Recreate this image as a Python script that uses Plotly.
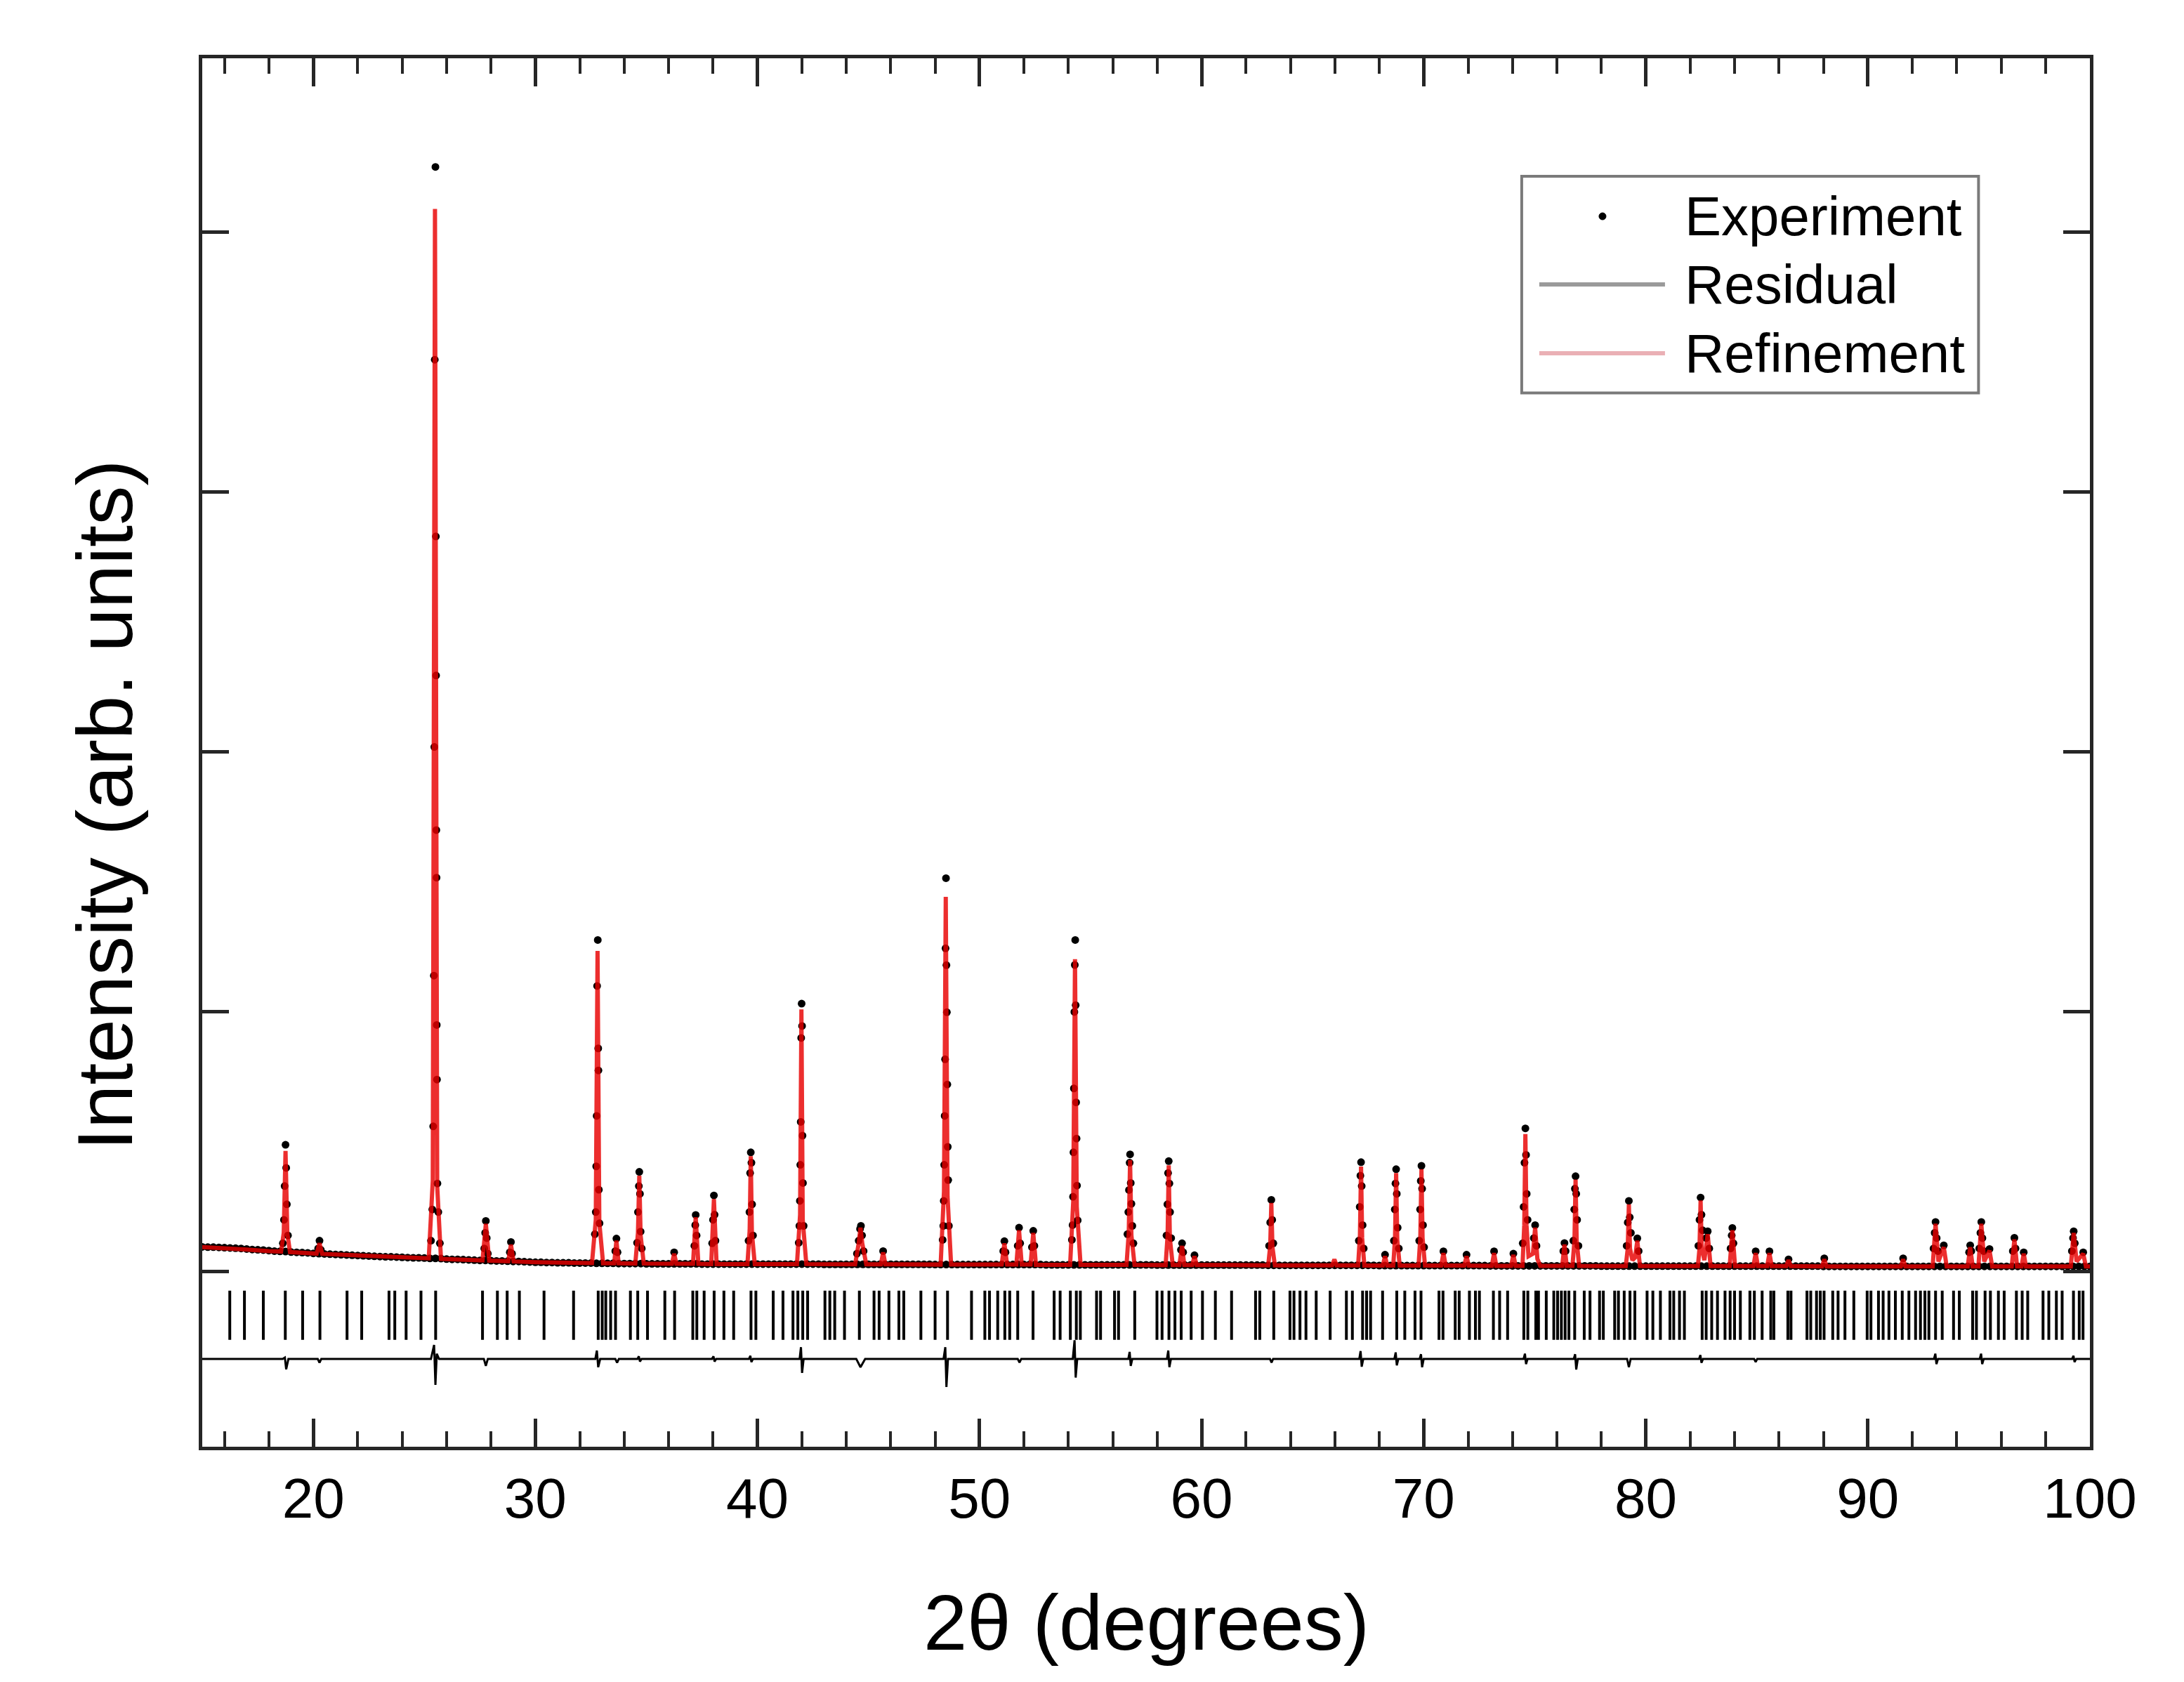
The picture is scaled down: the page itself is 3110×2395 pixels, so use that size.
import numpy as np
import plotly.graph_objects as go

# ---------------- data ----------------
# Experiment: background scan points (0.25 deg step from 15 to 100)
scan_start, scan_step = 15.0, 0.25
obs_bg_intensity = [
    96, 95, 95, 94,  93, 92, 91, 90,  88, 86, 85, 84,  82, 80, 79, 78,  76, 75, 74, 73,
    71, 70, 69, 68,  67, 66, 65, 64,  63, 62, 61, 60,  59, 58, 58, 57,  56, 55, 54, 54,
    53, 52, 52, 51,  49, 48, 48, 47,  46, 45, 44, 44,  43, 42, 42, 41,  40, 40, 39, 38,
    37, 37, 36, 36,  35, 35, 35, 34,  34, 34, 34, 33,  33, 33, 33, 32,  32, 32, 32, 32,
    31, 31, 31, 31,  31, 31, 31, 31,  31, 31, 30, 30,  30, 30, 30, 30,  30, 30, 30, 30,
    30, 30, 30, 30,  30, 30, 30, 30,  30, 30, 30, 30,  29, 29, 29, 29,  29, 29, 29, 29,
    29, 29, 29, 29,  29, 29, 29, 29,  29, 29, 29, 29,  28, 28, 28, 28,  28, 28, 28, 28,
    28, 28, 28, 28,  28, 28, 28, 28,  28, 28, 28, 28,  27, 27, 27, 27,  27, 27, 27, 27,
    27, 27, 27, 27,  27, 27, 27, 27,  27, 27, 27, 27,  26, 26, 26, 26,  26, 26, 26, 26,
    26, 26, 26, 26,  26, 26, 26, 26,  26, 26, 26, 26,  25, 25, 25, 25,  25, 25, 25, 25,
    25, 25, 25, 25,  25, 25, 25, 25,  25, 25, 25, 25,  24, 24, 24, 24,  24, 24, 24, 24,
    24, 24, 24, 24,  24, 24, 24, 24,  24, 24, 24, 24,  23, 23, 23, 23,  23, 23, 23, 23,
    23, 23, 23, 23,  23, 23, 23, 23,  23, 23, 23, 23,  22, 22, 22, 22,  22, 22, 22, 22,
    22, 22, 22, 22,  22, 22, 22, 22,  22, 22, 22, 22,  22, 22, 22, 22,  22, 22, 22, 22,
    22, 22, 22, 22,  22, 22, 22, 22,  22, 22, 22, 22,  21, 21, 21, 21,  21, 21, 21, 21,
    21, 21, 21, 21,  21, 21, 21, 21,  21, 21, 21, 21,  21, 21, 21, 21,  21, 21, 21, 21,
    21, 21, 21, 21,  21, 21, 21, 21,  21, 21, 21, 21,  21, 21, 21, 21,  21, 21, 21, 21,
    21,
]

# Experiment: points on the diffraction peaks
obs_peak_2theta = [
    18.63, 18.68, 18.71, 18.75, 18.78, 18.81, 18.86,
    20.22, 20.28, 20.34,
    25.30, 25.36, 25.40, 25.43, 25.45, 25.47, 25.50, 25.52, 25.53, 25.54, 25.55, 25.56, 25.57, 25.59, 25.63, 25.70,
    27.70, 27.74, 27.77, 27.81, 27.86,
    28.85, 28.90, 28.95,
    32.68, 32.72, 32.74, 32.76, 32.78, 32.81, 32.83, 32.84, 32.86, 32.89,
    33.60, 33.65, 33.70,
    34.58, 34.62, 34.66, 34.68, 34.71, 34.74, 34.79,
    36.25,
    37.16, 37.20, 37.22, 37.26,
    37.96, 38.00, 38.04, 38.07, 38.11,
    39.60, 39.64, 39.67, 39.70, 39.73, 39.76, 39.80,
    41.86, 41.89, 41.91, 41.93, 41.95, 41.97, 41.99, 42.01, 42.03, 42.05, 42.08,
    44.48, 44.56, 44.62, 44.66, 44.71, 44.78,
    45.66,
    48.34, 48.37, 48.39, 48.41, 48.43, 48.45, 48.47, 48.49, 48.51, 48.53, 48.55, 48.57, 48.59, 48.62,
    51.07, 51.12, 51.17,
    51.72, 51.78, 51.83,
    52.36, 52.42, 52.47,
    54.16, 54.19, 54.21, 54.23, 54.25, 54.27, 54.29, 54.31, 54.33, 54.35, 54.37, 54.39, 54.42,
    56.66, 56.70, 56.73, 56.76, 56.78, 56.81, 56.84, 56.88, 56.93,
    58.42, 58.46, 58.49, 58.52, 58.55, 58.58, 58.63,
    59.07, 59.12, 59.17,
    59.68,
    63.04, 63.09, 63.14, 63.18, 63.23,
    67.08, 67.12, 67.15, 67.18, 67.21, 67.25, 67.30,
    68.26,
    68.66, 68.70, 68.73, 68.76, 68.79, 68.83, 68.88,
    69.80, 69.84, 69.87, 69.90, 69.93, 69.97, 70.02,
    70.89, 71.93, 73.17, 74.04,
    74.46, 74.50, 74.54, 74.58, 74.61, 74.64, 74.68,
    74.96, 75.02, 75.08,
    76.29, 76.34, 76.39,
    76.74, 76.78, 76.81, 76.84, 76.87, 76.91, 76.97,
    79.14, 79.19, 79.24, 79.28, 79.33,
    79.62, 79.68,
    82.37, 82.42, 82.47, 82.51, 82.56,
    82.72, 82.79, 82.86,
    83.82, 83.87, 83.90, 83.95,
    84.95, 85.57, 86.43, 88.04, 91.59,
    92.96, 93.01, 93.05, 93.10, 93.16,
    93.42,
    94.56, 94.61, 94.66,
    95.02, 95.07, 95.11, 95.16, 95.22,
    95.48,
    96.53, 96.60, 96.65,
    97.02,
    99.19, 99.24, 99.27, 99.32,
    99.70,
]
obs_peak_intensity = [
    110, 200, 330, 489, 400, 260, 140,
    90, 120, 85,
    120, 240, 560, 1140, 2020, 3510, 4252, 2830, 2295, 1700, 1517, 950, 740, 340, 230, 110,
    90, 150, 196, 130, 70,
    75, 115, 70,
    145, 230, 406, 600, 1100, 1277, 860, 775, 316, 187,
    80, 128, 75,
    112, 230, 330, 385, 300, 155, 90,
    75,
    100, 180, 219, 140,
    110, 200, 294, 220, 120,
    120, 230, 380, 460, 420, 260, 140,
    112, 177, 273, 412, 577, 900, 1032, 946, 524, 342, 177,
    70, 120, 165, 177, 140, 80,
    80,
    123, 177, 273, 412, 600, 818, 1245, 1515, 1180, 999, 721, 481, 353, 177,
    80, 118, 75,
    100, 170, 110,
    95, 158, 100,
    123, 180, 289, 460, 706, 1000, 1181, 1277, 1026, 652, 513, 332, 198,
    145, 230, 315, 420, 452, 342, 262, 177, 110,
    140, 260, 380, 426, 340, 230, 130,
    85, 110, 75,
    64,
    100, 190, 277, 200, 110,
    120, 250, 370, 422, 330, 180, 90,
    66,
    120, 240, 340, 395, 300, 170, 90,
    120, 240, 350, 408, 320, 180, 95,
    79, 66, 79, 70,
    110, 250, 420, 552, 450, 300, 200,
    130, 180, 100,
    80, 111, 80,
    120, 240, 320, 368, 300, 200, 100,
    100, 190, 273, 210, 150,
    129, 80,
    100, 200, 286, 220, 160,
    130, 156, 90,
    90, 140, 169, 110,
    79, 79, 48, 52, 52,
    90, 150, 192, 130, 80,
    102,
    75, 102, 80,
    90, 150, 192, 130, 80,
    88,
    80, 131, 90,
    75,
    80, 130, 156, 110,
    75,
]

# Refinement (calculated profile)
calc_2theta = [
    15.00, 16.00, 17.00, 18.00,
    18.55, 18.67, 18.75, 18.83, 18.95,
    20.15, 20.28, 20.40,
    22.00, 24.00,
    25.20, 25.38, 25.48, 25.58, 25.75,
    27.62, 27.77, 27.92,
    28.78, 28.90, 29.02,
    30.00, 31.00,
    32.55, 32.72, 32.80, 32.88, 33.05,
    33.55, 33.65, 33.75,
    34.50, 34.62, 34.68, 34.74, 34.88,
    36.15, 36.25, 36.35,
    37.10, 37.22, 37.34,
    37.92, 38.04, 38.16,
    39.55, 39.65, 39.70, 39.75, 39.88,
    41.78, 41.92, 41.98, 42.04, 42.20,
    44.40, 44.56, 44.64, 44.72, 44.90,
    45.56, 45.66, 45.76,
    48.25, 48.40, 48.48, 48.56, 48.72,
    51.00, 51.12, 51.24,
    51.66, 51.78, 51.90,
    52.30, 52.42, 52.54,
    54.08, 54.22, 54.30, 54.38, 54.55,
    56.62, 56.72, 56.78, 56.84, 56.98,
    58.38, 58.47, 58.52, 58.57, 58.70,
    59.00, 59.12, 59.22,
    59.58, 59.68, 59.78,
    61.00,
    63.00, 63.09, 63.14, 63.19, 63.30,
    65.88, 65.98, 66.08,
    67.05, 67.13, 67.18, 67.23, 67.33,
    68.16, 68.26, 68.36,
    68.63, 68.71, 68.76, 68.81, 68.92,
    69.77, 69.85, 69.90, 69.95, 70.06,
    70.79, 70.89, 70.99,
    71.83, 71.93, 72.03,
    73.07, 73.17, 73.27,
    73.94, 74.04, 74.14,
    74.45, 74.53, 74.58, 74.63, 74.72, 74.92, 75.02, 75.12, 75.25,
    76.24, 76.34, 76.44,
    76.70, 76.79, 76.84, 76.89, 77.00,
    79.10, 79.19, 79.24, 79.29, 79.40, 79.52, 79.62, 79.74,
    82.35, 82.42, 82.47, 82.52, 82.64, 82.79, 82.92,
    83.78, 83.90, 84.02,
    84.85, 84.95, 85.05,
    85.47, 85.57, 85.67,
    86.33, 86.43, 86.53,
    87.94, 88.04, 88.14,
    91.49, 91.59, 91.69,
    92.92, 93.05, 93.18, 93.42, 93.55,
    94.50, 94.61, 94.72,
    94.98, 95.11, 95.24, 95.48, 95.60,
    96.48, 96.60, 96.72,
    96.92, 97.02, 97.12,
    99.14, 99.27, 99.40, 99.70, 99.82,
    100.00,
]
calc_intensity = [
    95, 92, 86, 80,
    78, 150, 465, 150, 76,
    70, 110, 69,
    62, 55,
    52, 350, 4090, 330, 50,
    44, 185, 43,
    41, 105, 40,
    37, 35,
    34, 200, 1235, 190, 33,
    33, 120, 33,
    32, 150, 370, 140, 32,
    31, 70, 31,
    31, 210, 31,
    30, 280, 30,
    30, 160, 445, 150, 30,
    30, 220, 1010, 200, 30,
    29, 110, 170, 110, 29,
    29, 75, 29,
    28, 310, 1443, 290, 28,
    28, 110, 28,
    28, 160, 28,
    28, 150, 27,
    27, 270, 1203, 250, 27,
    27, 150, 430, 140, 27,
    26, 140, 410, 130, 26,
    26, 100, 26,
    26, 60, 26,
    26,
    25, 100, 265, 95, 25,
    25, 48, 25,
    25, 140, 405, 130, 24,
    24, 60, 24,
    24, 130, 380, 125, 24,
    24, 135, 395, 130, 24,
    24, 72, 24,
    24, 60, 24,
    23, 72, 23,
    23, 65, 23,
    23, 180, 530, 180, 60, 70, 170, 50, 23,
    23, 105, 23,
    23, 120, 355, 120, 23,
    22, 90, 260, 90, 45, 55, 120, 22,
    22, 90, 275, 90, 45, 145, 22,
    22, 160, 22,
    22, 72, 22,
    22, 72, 22,
    22, 45, 22,
    21, 48, 21,
    21, 48, 21,
    21, 185, 40, 95, 21,
    21, 95, 21,
    21, 185, 40, 82, 21,
    21, 125, 21,
    21, 70, 21,
    21, 150, 40, 70, 21,
    21,
]

# Residual (difference curve), plotted with an offset below the pattern
res_2theta = [
    15.00,
    18.62, 18.72, 18.78, 18.88,
    20.20, 20.28, 20.36,
    25.30, 25.44, 25.50, 25.56, 25.66,
    27.68, 27.77, 27.86,
    32.70, 32.77, 32.83, 32.92,
    33.60, 33.68, 33.76,
    34.60, 34.66, 34.71, 34.78,
    37.95, 38.02, 38.07, 38.14,
    39.62, 39.68, 39.73, 39.80,
    41.90, 41.96, 42.01, 42.08,
    44.45, 44.64, 44.85,
    48.38, 48.46, 48.51, 48.58,
    51.72, 51.80, 51.88,
    54.20, 54.28, 54.33, 54.40,
    56.70, 56.76, 56.81, 56.88,
    58.44, 58.50, 58.55, 58.62,
    63.08, 63.15, 63.22,
    67.10, 67.16, 67.21, 67.28,
    68.68, 68.74, 68.79, 68.86,
    69.82, 69.88, 69.93, 70.00,
    74.50, 74.56, 74.61, 74.68,
    76.76, 76.82, 76.87, 76.94,
    79.16, 79.24, 79.32,
    82.40, 82.46, 82.51, 82.58,
    84.88, 84.95, 85.02,
    92.98, 93.04, 93.09, 93.16,
    95.04, 95.10, 95.15, 95.22,
    99.20, 99.26, 99.31, 99.38,
    100.00,
]
res_diff = [
    0,
    0, 5, -40, 0,
    0, -15, 0,
    0, 54, -100, 20, 0,
    0, -27, 0,
    0, 32, -32, 0,
    0, -15, 0,
    0, 10, -10, 0,
    0, 10, -10, 0,
    0, 12, -12, 0,
    0, 45, -54, 0,
    0, -32, 0,
    0, 45, -108, 0,
    0, -14, 0,
    0, 72, -72, 0,
    0, 27, -27, 0,
    0, 32, -32, 0,
    0, -14, 0,
    0, 30, -30, 0,
    0, 25, -25, 0,
    0, 18, -32, 0,
    0, 20, -20, 0,
    0, 18, -41, 0,
    0, -32, 0,
    0, 15, -15, 0,
    0, -12, 0,
    0, 20, -20, 0,
    0, 20, -20, 0,
    0, 12, -12, 0,
    0,
]
residual_offset = -335

# Bragg reflection positions (tick row)
bragg_2theta = [
    16.24, 16.90, 17.75, 18.74, 19.52, 20.30, 21.52, 22.18, 23.41, 23.67, 24.18, 24.85, 25.51,
    27.62, 28.29, 28.73, 29.28, 30.39, 31.72, 32.83, 33.01, 33.17, 33.39, 33.61, 34.28, 34.61,
    35.05, 35.83, 36.27, 37.09, 37.27, 37.60, 38.05, 38.49, 38.93, 39.71, 39.93, 40.71, 41.15,
    41.60, 41.82, 42.04, 42.26, 43.04, 43.26, 43.48, 43.92, 44.59, 45.25, 45.48, 45.92, 46.37,
    46.59, 47.36, 48.00, 48.56, 49.64, 50.24, 50.45, 50.82, 51.14, 51.36, 51.72, 52.41, 53.36,
    53.63, 54.09, 54.36, 54.54, 55.27, 55.45, 56.08, 56.26, 56.99, 57.99, 58.22, 58.53, 58.80,
    59.08, 59.53, 60.04, 60.62, 61.35, 62.43, 62.62, 63.25, 63.98, 64.16, 64.43, 64.70, 65.16,
    65.79, 66.52, 66.79, 67.25, 67.43, 67.61, 68.15, 68.79, 69.15, 69.61, 69.88, 70.69, 70.87,
    71.42, 71.60, 72.06, 72.33, 72.51, 73.14, 73.42, 73.78, 74.51, 74.69, 75.05, 75.17, 75.52,
    75.86, 76.03, 76.20, 76.37, 76.54, 76.80, 77.23, 77.49, 77.92, 78.09, 78.60, 78.77, 79.03,
    79.29, 79.51, 80.06, 80.32, 80.66, 81.09, 81.26, 81.52, 81.74, 82.54, 82.72, 82.97, 83.23,
    83.57, 83.80, 84.00, 84.26, 84.69, 84.89, 85.24, 85.63, 85.77, 86.40, 86.54, 87.26, 87.43,
    87.69, 87.86, 88.03, 88.42, 88.66, 88.97, 89.37, 89.97, 90.14, 90.48, 90.69, 90.95, 91.24,
    91.55, 91.85, 92.15, 92.37, 92.57, 92.75, 93.05, 93.35, 93.86, 94.12, 94.72, 94.89, 95.28,
    95.52, 95.88, 96.14, 96.69, 96.95, 97.20, 97.89, 98.15, 98.49, 98.75, 99.26, 99.52, 99.69,
]
bragg_row_level = -167

x_tick_values = [20, 30, 40, 50, 60, 70, 80, 90, 100]
y_tick_values = [0, 1000, 2000, 3000, 4000]
legend_labels = ["Experiment", "Residual", "Refinement"]

# ---------------- figure ----------------
obs_bg_2theta = np.round(scan_start + scan_step * np.arange(len(obs_bg_intensity)), 2)
obs_x = np.concatenate([obs_bg_2theta, np.array(obs_peak_2theta)])
obs_y = np.concatenate([np.array(obs_bg_intensity), np.array(obs_peak_intensity)])

order = np.argsort(calc_2theta, kind="stable")
calc_x = np.array(calc_2theta)[order]
calc_y = np.array(calc_intensity)[order]

res_y = np.array(res_diff) + residual_offset

AXC = "#262626"
FONT = "Liberation Sans, Arial, sans-serif"

fig = go.Figure()
fig.add_trace(go.Scatter(
    x=bragg_2theta, y=[bragg_row_level] * len(bragg_2theta), mode="markers",
    marker=dict(symbol="line-ns", size=50, color="black", line=dict(width=4, color="black")),
    showlegend=False, hoverinfo="x"))
fig.add_trace(go.Scatter(
    x=res_2theta, y=res_y, mode="lines", name=legend_labels[1],
    line=dict(color="black", width=3), showlegend=False))
fig.add_trace(go.Scatter(
    x=obs_x, y=obs_y, mode="markers", name=legend_labels[0],
    marker=dict(color="black", size=11), showlegend=False))
fig.add_trace(go.Scatter(
    x=calc_x, y=calc_y, mode="lines", name=legend_labels[2],
    line=dict(color="rgba(232,0,0,0.82)", width=6), showlegend=False))

fig.update_layout(
    width=3110, height=2395,
    margin=dict(l=288, r=134, t=83, b=335),
    paper_bgcolor="white", plot_bgcolor="white",
    font=dict(family=FONT, color="black"),
    showlegend=False,
)
fig.update_xaxes(
    range=[15, 100], tickvals=x_tick_values, ticktext=[str(v) for v in x_tick_values],
    ticks="inside", ticklen=40, tickwidth=5, tickcolor=AXC,
    showline=True, linewidth=5, linecolor=AXC, mirror="allticks",
    showgrid=False, zeroline=False, tickfont=dict(size=80, family=FONT, color="black"),
    minor=dict(dtick=2, tick0=0, ticks="inside", ticklen=22, tickwidth=4, tickcolor=AXC, showgrid=False),
)
fig.update_yaxes(
    range=[-673, 4670], tickvals=y_tick_values, showticklabels=False,
    ticks="inside", ticklen=38, tickwidth=5, tickcolor=AXC,
    showline=True, linewidth=5, linecolor=AXC, mirror="allticks",
    showgrid=False, zeroline=False,
)

# axis titles
fig.add_annotation(text="2θ (degrees)", xref="paper", yref="paper", x=0.5, y=-0.1265,
                   xanchor="center", yanchor="middle", showarrow=False,
                   font=dict(size=112, family=FONT, color="black"))
fig.add_annotation(text="Intensity (arb. units)", xref="paper", yref="paper", x=-0.0517, y=0.4623,
                   xanchor="center", yanchor="middle", textangle=-90, showarrow=False,
                   font=dict(size=112, family=FONT, color="black"))

# legend box (drawn manually to match the original layout)
fig.add_shape(type="rect", xref="paper", yref="paper", x0=0.699, x1=0.941, y0=0.759, y1=0.915,
              line=dict(color="#7a7a7a", width=4), fillcolor="white", layer="above")
fig.add_shape(type="circle", xref="paper", yref="paper", xsizemode="pixel", ysizemode="pixel",
              xanchor=0.7418, yanchor=0.8862, x0=-5, x1=5, y0=-5, y1=5,
              fillcolor="black", line=dict(color="black", width=1), layer="above")
fig.add_shape(type="line", xref="paper", yref="paper", x0=0.7083, x1=0.7749, y0=0.8371, y1=0.8371,
              line=dict(color="#9a9a9a", width=6), layer="above")
fig.add_shape(type="line", xref="paper", yref="paper", x0=0.7083, x1=0.7749, y0=0.7875, y1=0.7875,
              line=dict(color="#eab0b5", width=6), layer="above")
for label, yy in zip(legend_labels, [0.8862, 0.8371, 0.7875]):
    fig.add_annotation(text=label, xref="paper", yref="paper", x=0.7846, y=yy,
                       xanchor="left", yanchor="middle", showarrow=False,
                       font=dict(size=78, family=FONT, color="black"))

fig.write_html("out.html", config={"displayModeBar": False},
               post_script="document.body.style.margin='0';")
